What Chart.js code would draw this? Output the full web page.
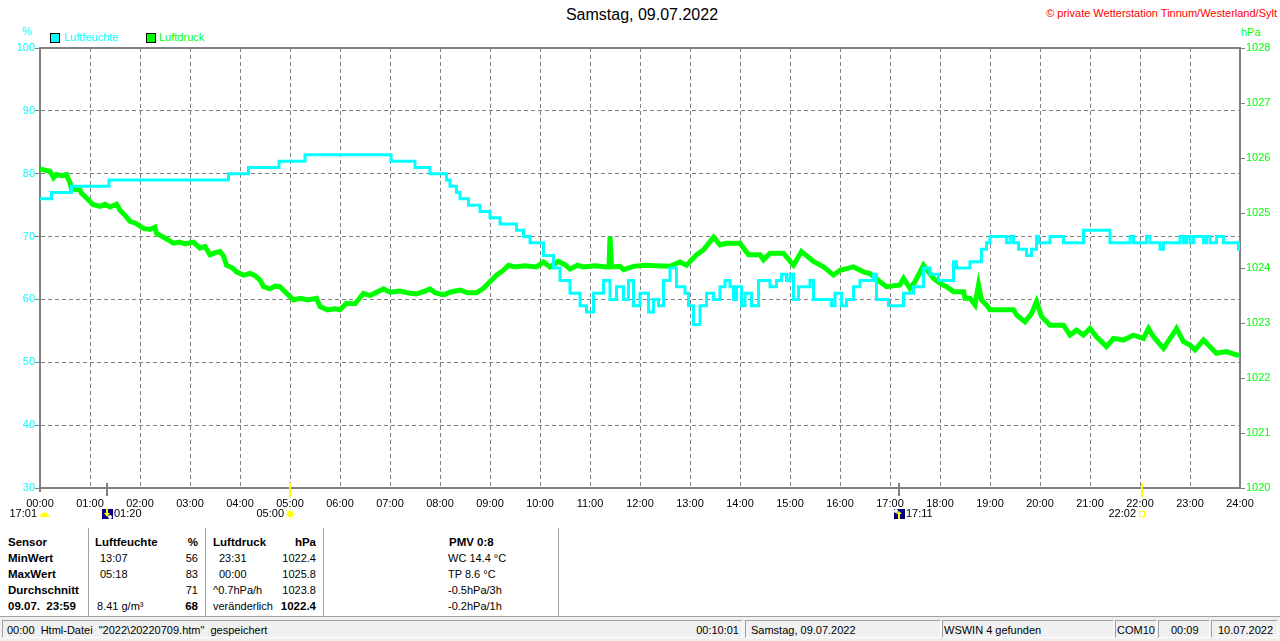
<!DOCTYPE html>
<html>
<head>
<meta charset="utf-8">
<script src="https://cdn.jsdelivr.net/npm/chart.js@4/dist/chart.umd.min.js"></script>
<style>
html,body{margin:0;padding:0;background:#fff;}
body{width:1280px;height:641px;position:relative;overflow:hidden;font-family:"Liberation Sans",Arial,sans-serif;font-size:11px;color:#000;}
.a{position:absolute;white-space:pre;line-height:14px;}
.b{font-weight:bold;font-size:11.5px;}
.r{text-align:right;}
#cv{position:absolute;left:0;top:0;}
.sq{position:absolute;width:8px;height:8px;border:1px solid #000;}
.sep{position:absolute;top:528px;width:1px;height:88px;background:#a0a0a0;border-right:1px solid #fff;}
#status{position:absolute;left:0;top:616px;width:1280px;height:25px;background:#f0f0f0;border-top:1px solid #a0a0a0;}
.pn{position:absolute;top:3px;height:18px;border-top:1px solid #a0a0a0;border-left:1px solid #a0a0a0;border-bottom:1px solid #fff;border-right:1px solid #fff;box-sizing:border-box;}
.pt{position:absolute;top:2px;white-space:pre;line-height:14px;font-size:11px;}
</style>
</head>
<body>
<div class="a" style="left:0;width:1284px;top:7px;text-align:center;font-size:16px;line-height:16px;">Samstag, 09.07.2022</div>
<div class="a r" style="right:3px;top:6px;color:#ff0000;">© private Wetterstation Tinnum/Westerland/Sylt</div>
<div class="a" style="left:22px;top:24px;color:#00ffff;">%</div>
<div class="a" style="left:1241px;top:25px;color:#00ff00;">hPa</div>
<div class="sq" style="left:50px;top:33px;background:#00ffff;"></div>
<div class="a" style="left:64px;top:30px;color:#00ffff;">Luftfeuchte</div>
<div class="sq" style="left:146px;top:33px;background:#00ff00;"></div>
<div class="a" style="left:159px;top:30px;color:#00ff00;">Luftdruck</div>

<canvas id="cv" width="1280" height="524"></canvas>

<!-- table -->
<div class="sep" style="left:88px;"></div>
<div class="sep" style="left:205px;"></div>
<div class="sep" style="left:323px;"></div>
<div class="sep" style="left:558px;"></div>

<div class="a b" style="left:8px;top:535px;">Sensor</div>
<div class="a b" style="left:8px;top:551px;">MinWert</div>
<div class="a b" style="left:8px;top:567px;">MaxWert</div>
<div class="a b" style="left:8px;top:583px;">Durchschnitt</div>
<div class="a b" style="left:8px;top:599px;">09.07.  23:59</div>

<div class="a b" style="left:95px;top:535px;">Luftfeuchte</div>
<div class="a b r" style="left:150px;width:48px;top:535px;">%</div>
<div class="a" style="left:100px;top:551px;">13:07</div>
<div class="a r" style="left:150px;width:48px;top:551px;">56</div>
<div class="a" style="left:100px;top:567px;">05:18</div>
<div class="a r" style="left:150px;width:48px;top:567px;">83</div>
<div class="a r" style="left:150px;width:48px;top:583px;">71</div>
<div class="a" style="left:97px;top:599px;">8.41 g/m³</div>
<div class="a b r" style="left:150px;width:48px;top:599px;">68</div>

<div class="a b" style="left:213px;top:535px;">Luftdruck</div>
<div class="a b r" style="left:266px;width:50px;top:535px;">hPa</div>
<div class="a" style="left:219px;top:551px;">23:31</div>
<div class="a r" style="left:266px;width:50px;top:551px;">1022.4</div>
<div class="a" style="left:219px;top:567px;">00:00</div>
<div class="a r" style="left:266px;width:50px;top:567px;">1025.8</div>
<div class="a" style="left:213px;top:583px;">^0.7hPa/h</div>
<div class="a r" style="left:266px;width:50px;top:583px;">1023.8</div>
<div class="a" style="left:213px;top:599px;">veränderlich</div>
<div class="a b r" style="left:266px;width:50px;top:599px;">1022.4</div>

<div class="a b" style="left:449px;top:535px;">PMV 0:8</div>
<div class="a" style="left:448px;top:551px;">WC 14.4 °C</div>
<div class="a" style="left:448px;top:567px;">TP 8.6 °C</div>
<div class="a" style="left:448px;top:583px;">-0.5hPa/3h</div>
<div class="a" style="left:448px;top:599px;">-0.2hPa/1h</div>

<div id="status">
  <div class="pn" style="left:2px;width:741px;"><div class="pt" style="left:4px;">00:00  Html-Datei  "2022\20220709.htm"  gespeichert</div><div class="pt" style="right:3px;">00:10:01</div></div>
  <div class="pn" style="left:745px;width:196px;"><div class="pt" style="left:5px;">Samstag, 09.07.2022</div></div>
  <div class="pn" style="left:942px;width:172px;"><div class="pt" style="left:1px;">WSWIN 4 gefunden</div></div>
  <div class="pn" style="left:1115px;width:42px;"><div class="pt" style="left:1px;">COM10</div></div>
  <div class="pn" style="left:1158px;width:52px;"><div class="pt" style="left:12px;">00:09</div></div>
  <div class="pn" style="left:1211px;width:67px;"><div class="pt" style="left:6px;">10.07.2022</div></div>
</div>

<script>
// ---- data ----
const hourLabels = ['00:00','01:00','02:00','03:00','04:00','05:00','06:00','07:00','08:00','09:00','10:00','11:00','12:00',
  '13:00','14:00','15:00','16:00','17:00','18:00','19:00','20:00','21:00','22:00','23:00','24:00'];

const humTimes = [0,0.23,0.63,1.38,3.77,4.17,4.78,5.3,7.02,7.5,
  7.8,8.13,8.2,8.33,8.4,8.57,8.8,9.0,9.2,9.53,
  9.67,9.8,10.07,10.27,10.4,10.6,10.8,10.93,11.07,11.27,
  11.4,11.53,11.67,11.77,11.87,12.0,12.17,12.27,12.37,12.47,
  12.6,12.73,12.9,12.97,13.07,13.2,13.33,13.47,13.6,13.7,
  13.8,13.87,13.93,14.03,14.1,14.23,14.37,14.6,14.73,14.83,
  14.93,15.0,15.07,15.17,15.4,15.47,15.83,15.9,16.03,16.13,
  16.27,16.4,16.67,16.73,16.97,17.27,17.47,17.67,17.8,17.97,
  18.27,18.33,18.6,18.83,18.93,19.0,19.33,19.4,19.47,19.57,
  19.73,19.83,19.93,19.97,20.2,20.47,20.87,21.4,21.8,21.87,
  22.13,22.2,22.4,22.47,22.8,22.87,22.93,23.0,23.07,23.27,
  23.33,23.4,23.53,23.67,23.97,24.0];
const humValues = [76,77,78,79,80,81,82,83,82,81,
  80,79,78,77,76,75,74,73,72,71,
  70,69,67,65,63,61,59,58,61,63,
  60,62,60,63,59,61,58,60,59,63,
  65,62,61,59,56,59,61,60,62,63,
  62,60,62,59,61,59,63,62,63,64,
  63,64,60,62,63,60,59,61,59,60,
  62,63,64,60,59,61,62,65,64,63,
  66,65,66,68,69,70,69,70,69,68,
  67,68,70,69,70,69,71,69,70,69,
  70,69,68,69,70,69,70,69,70,69,
  70,69,70,69,68,68];

const presTimes = [0,0.1,0.2,0.27,0.33,0.45,0.53,0.57,0.6,0.63,
  0.8,0.83,0.9,1.0,1.07,1.2,1.3,1.4,1.53,1.6,
  1.73,1.8,1.9,2.07,2.2,2.3,2.33,2.47,2.67,2.8,
  2.9,3.07,3.2,3.3,3.4,3.5,3.6,3.67,3.73,3.85,
  3.93,4.07,4.2,4.3,4.4,4.47,4.6,4.7,4.8,4.93,
  5.07,5.2,5.35,5.53,5.6,5.75,5.9,6.0,6.13,6.3,
  6.47,6.6,6.87,7.0,7.2,7.4,7.53,7.7,7.8,7.9,
  8.07,8.2,8.4,8.55,8.73,8.87,9.0,9.13,9.27,9.37,
  9.5,9.7,9.93,10.07,10.2,10.37,10.5,10.6,10.75,10.87,
  11.1,11.33,11.38,11.4,11.43,11.6,11.67,11.87,12.1,12.3,
  12.6,12.8,12.93,13.13,13.27,13.47,13.6,13.73,14.0,14.17,
  14.4,14.47,14.6,14.87,15.07,15.23,15.47,15.67,15.87,16.0,
  16.27,16.47,16.6,16.8,16.93,17.2,17.27,17.4,17.5,17.67,
  17.87,18.0,18.13,18.27,18.47,18.5,18.6,18.7,18.77,18.83,
  18.93,19.0,19.47,19.53,19.7,19.83,19.93,20.03,20.2,20.47,
  20.6,20.73,20.87,21.0,21.13,21.33,21.47,21.67,21.87,22.07,
  22.17,22.27,22.47,22.67,22.73,22.87,23.0,23.1,23.27,23.4,
  23.53,23.73,23.93,24.0];
const presValues = [1025.80,1025.78,1025.76,1025.64,1025.70,1025.68,1025.70,1025.61,1025.55,1025.44,
  1025.42,1025.36,1025.30,1025.21,1025.15,1025.12,1025.16,1025.11,1025.16,1025.05,
  1024.93,1024.85,1024.82,1024.72,1024.70,1024.74,1024.63,1024.56,1024.45,1024.47,
  1024.44,1024.47,1024.36,1024.39,1024.24,1024.28,1024.30,1024.22,1024.05,1024.00,
  1023.93,1023.87,1023.90,1023.86,1023.78,1023.66,1023.62,1023.67,1023.66,1023.54,
  1023.42,1023.45,1023.42,1023.45,1023.30,1023.24,1023.26,1023.24,1023.36,1023.35,
  1023.54,1023.50,1023.62,1023.56,1023.58,1023.54,1023.53,1023.58,1023.62,1023.55,
  1023.51,1023.56,1023.60,1023.55,1023.55,1023.63,1023.75,1023.87,1023.96,1024.05,
  1024.02,1024.04,1024.02,1024.11,1024.02,1024.12,1024.06,1023.98,1024.05,1024.02,
  1024.04,1024.02,1024.02,1024.57,1024.02,1024.03,1023.97,1024.03,1024.05,1024.04,
  1024.03,1024.11,1024.05,1024.24,1024.33,1024.56,1024.42,1024.45,1024.45,1024.24,
  1024.24,1024.15,1024.27,1024.27,1024.05,1024.30,1024.12,1024.02,1023.87,1023.96,
  1024.02,1023.93,1023.90,1023.75,1023.66,1023.69,1023.81,1023.63,1023.75,1024.05,
  1023.81,1023.72,1023.66,1023.57,1023.57,1023.45,1023.45,1023.33,1023.69,1023.42,
  1023.33,1023.24,1023.24,1023.15,1023.02,1023.17,1023.39,1023.12,1022.96,1022.96,
  1022.78,1022.87,1022.78,1022.90,1022.75,1022.57,1022.72,1022.69,1022.78,1022.72,
  1022.90,1022.75,1022.54,1022.81,1022.90,1022.66,1022.60,1022.51,1022.69,1022.57,
  1022.45,1022.48,1022.42,1022.42];

const eventTimes = [1 + 20/60, 5 + 0/60, 17 + 11/60, 22 + 2/60];
const eventLabels = ['01:20', '05:00', '17:11', '22:02'];
const eventKinds = ['moonset', 'sunrise', 'moonrise', 'sunset'];
const startLabel = '17:01';

// ---- drawing helpers ----
function drawMoonIcon(ctx, cx, top, up) {
  ctx.fillStyle = '#000080';
  ctx.fillRect(cx - 5, top, 11, 10);
  ctx.fillStyle = '#ffffff';
  if (up) { ctx.beginPath(); ctx.arc(cx - 3, top + 2, 2, 0, Math.PI * 2); ctx.fill(); }
  else { ctx.beginPath(); ctx.arc(cx + 3, top + 8, 2, 0, Math.PI * 2); ctx.fill(); }
  ctx.fillStyle = '#ffff00';
  ctx.beginPath();
  if (up) {
    ctx.moveTo(cx, top + 2); ctx.lineTo(cx + 3, top + 5); ctx.lineTo(cx + 1, top + 5);
    ctx.lineTo(cx + 1, top + 10); ctx.lineTo(cx - 1, top + 10); ctx.lineTo(cx - 1, top + 5); ctx.lineTo(cx - 3, top + 5);
  } else {
    ctx.moveTo(cx - 1, top); ctx.lineTo(cx + 1, top); ctx.lineTo(cx + 1, top + 4); ctx.lineTo(cx + 3, top + 4);
    ctx.lineTo(cx, top + 8); ctx.lineTo(cx - 3, top + 4); ctx.lineTo(cx - 1, top + 4);
  }
  ctx.closePath(); ctx.fill();
}
function drawSun(ctx, cx, cy) {
  ctx.fillStyle = '#ffff00';
  ctx.beginPath(); ctx.arc(cx, cy, 3.2, 0, Math.PI * 2); ctx.fill();
  ctx.strokeStyle = '#ffe860'; ctx.lineWidth = 1;
  for (let k = 0; k < 8; k++) {
    const ang = k * Math.PI / 4;
    ctx.beginPath();
    ctx.moveTo(cx + Math.cos(ang) * 4.2, cy + Math.sin(ang) * 4.2);
    ctx.lineTo(cx + Math.cos(ang) * 5.8, cy + Math.sin(ang) * 5.8);
    ctx.stroke();
  }
}

const markerPlugin = {
  id: 'markers',
  beforeDatasetsDraw(chart) {
    const {ctx, chartArea: a} = chart;
    ctx.save();
    ctx.strokeStyle = '#808080';
    ctx.lineWidth = 2;
    ctx.beginPath(); ctx.moveTo(a.left - 1, a.top); ctx.lineTo(a.right + 1, a.top); ctx.stroke();
    ctx.beginPath(); ctx.moveTo(a.left, a.bottom); ctx.lineTo(a.left, a.bottom + 4); ctx.stroke();
    ctx.restore();
  },
  afterDraw(chart) {
    const {ctx, chartArea: a, scales: {x}} = chart;
    ctx.save();
    ctx.font = '11px "Liberation Sans", Arial, sans-serif';
    ctx.textBaseline = 'middle';
    const ly = a.bottom + 26;
    ctx.fillStyle = '#000'; ctx.textAlign = 'right';
    ctx.fillText(startLabel, a.left - 3, ly);
    ctx.fillStyle = '#ffff00';
    ctx.beginPath(); ctx.arc(a.left + 4.5, ly + 3, 4.5, Math.PI, 0); ctx.closePath(); ctx.fill();
    eventTimes.forEach((t, i) => {
      const px = Math.round(x.getPixelForValue(t));
      const kind = eventKinds[i];
      const isSun = kind === 'sunrise' || kind === 'sunset';
      ctx.strokeStyle = isSun ? '#ffff00' : '#808080';
      ctx.lineWidth = 2;
      ctx.beginPath(); ctx.moveTo(px, a.bottom - 5); ctx.lineTo(px, a.bottom + (isSun ? 9 : 8)); ctx.stroke();
      ctx.fillStyle = '#000';
      if (isSun) {
        ctx.textAlign = 'right';
        ctx.fillText(eventLabels[i], px - 6, ly);
        if (kind === 'sunrise') {
          drawSun(ctx, px, ly);
        } else {
          ctx.strokeStyle = '#ffff00'; ctx.lineWidth = 1;
          ctx.strokeRect(px - 2.5, ly - 2.5, 5, 5);
        }
      } else {
        drawMoonIcon(ctx, px, ly - 5, kind === 'moonrise');
        ctx.fillStyle = '#000';
        ctx.textAlign = 'left';
        ctx.fillText(eventLabels[i], px + 7, ly);
      }
    });
    ctx.restore();
  }
};

const tickFont = {family: '"Liberation Sans", Arial, sans-serif', size: 11};

new Chart(document.getElementById('cv'), {
  type: 'line',
  data: {
    datasets: [
      {
        label: 'Luftfeuchte',
        data: humTimes.map((t, i) => ({x: t, y: humValues[i]})),
        yAxisID: 'y',
        borderColor: '#00ffff',
        borderWidth: 3,
        pointRadius: 0,
        stepped: true,
        fill: false
      },
      {
        label: 'Luftdruck',
        data: presTimes.map((t, i) => ({x: t, y: presValues[i]})),
        yAxisID: 'y1',
        borderColor: '#00ff00',
        borderWidth: 5,
        pointRadius: 0,
        tension: 0,
        fill: false
      }
    ]
  },
  options: {
    responsive: false,
    devicePixelRatio: 1,
    animation: false,
    events: [],
    layout: {padding: {top: 48, left: 0, right: 0, bottom: 0}},
    plugins: {legend: {display: false}, title: {display: false}, tooltip: {enabled: false}},
    scales: {
      x: {
        type: 'linear', min: 0, max: 24,
        afterFit(s) { s.height = 36; },
        ticks: {stepSize: 1, autoSkip: false, maxRotation: 0, color: '#000', font: tickFont, padding: 9,
          callback: (v) => hourLabels[v]},
        grid: {color: '#808080', lineWidth: 1, drawTicks: false},
        border: {display: true, color: '#808080', width: 2, dash: [4, 3]}
      },
      y: {
        position: 'left', min: 30, max: 100,
        afterFit(s) { s.width = 40; },
        ticks: {stepSize: 10, color: '#00ffff', font: tickFont, padding: 0, callback: (v) => String(v)},
        grid: {color: '#808080', lineWidth: 1, drawTicks: true, tickLength: 5, tickColor: '#808080'},
        border: {display: true, color: '#808080', width: 2, dash: [4, 3]}
      },
      y1: {
        position: 'right', min: 1020, max: 1028,
        afterFit(s) { s.width = 40; },
        ticks: {stepSize: 1, color: '#00ff00', font: tickFont, padding: 1, callback: (v) => String(v)},
        grid: {drawOnChartArea: false, drawTicks: true, tickLength: 5, tickColor: '#808080', color: '#808080'},
        border: {display: true, color: '#808080', width: 2}
      }
    }
  },
  plugins: [markerPlugin]
});
</script>
</body>
</html>
